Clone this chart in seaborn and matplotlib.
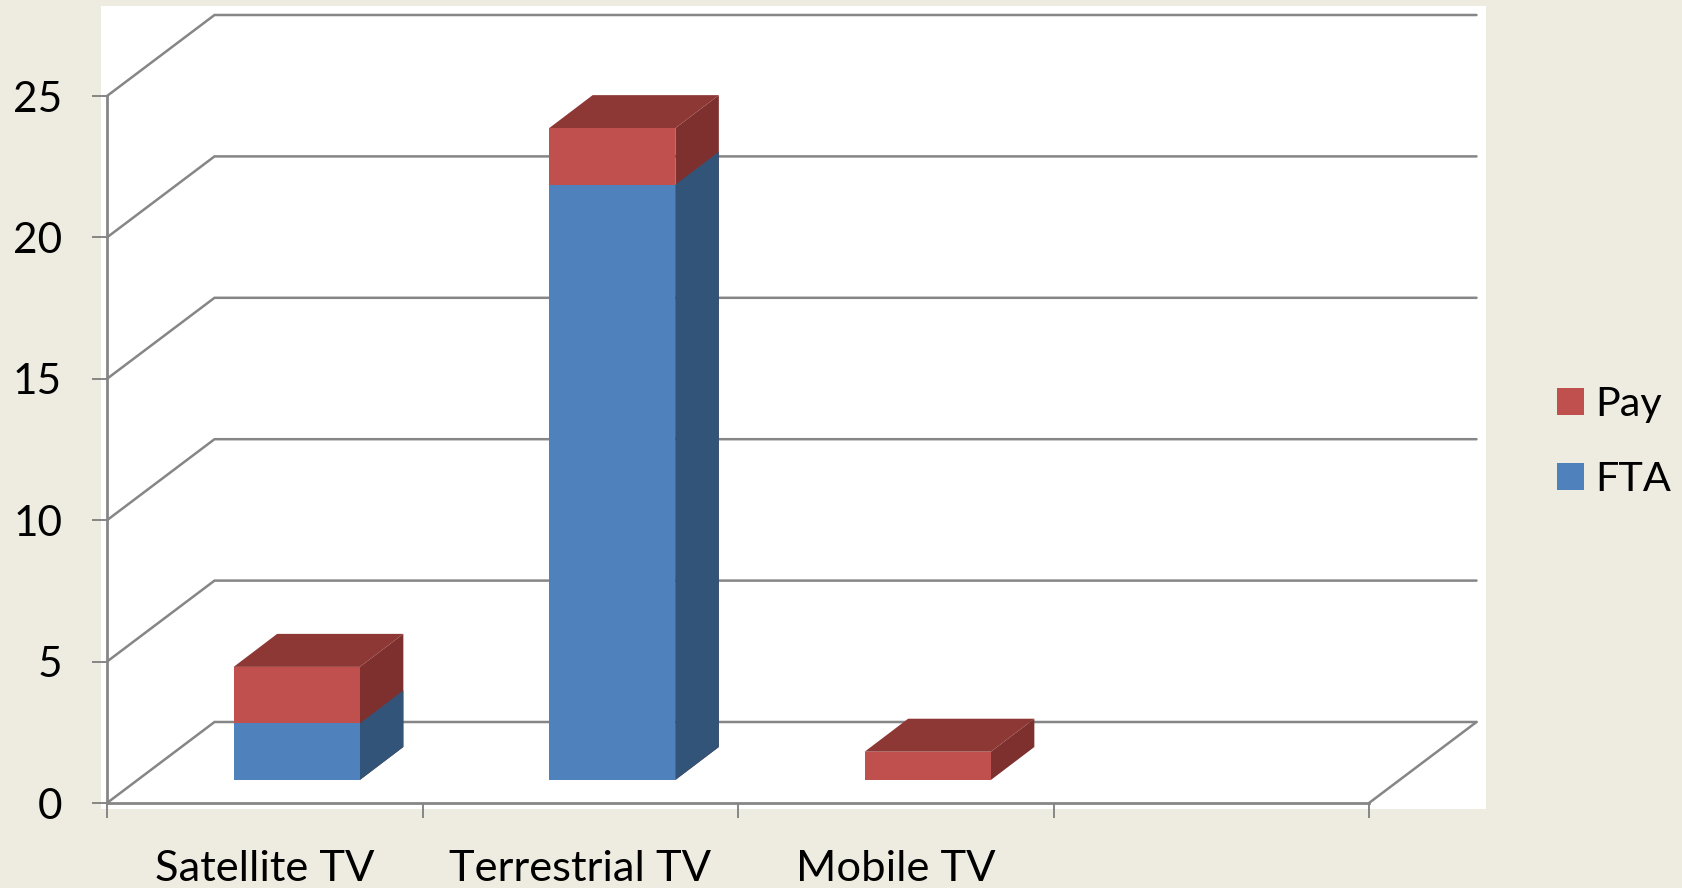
import matplotlib
matplotlib.use("Agg")
import matplotlib.pyplot as plt
from matplotlib.patches import Rectangle, Patch
import numpy as np
import pandas as pd
import seaborn as sns

categories = ["Satellite TV", "Terrestrial TV", "Mobile TV"]
fta_values = [2, 21.05, 0]
pay_values = [2, 2, 1]
y_ticks = [0, 5, 10, 15, 20, 25]

BG = "#EEECE1"
GRID = "#868686"
BLUE, BLUE_SIDE = "#4F81BD", "#325479"
RED, RED_SIDE, RED_TOP = "#C0504D", "#7D302E", "#8E3836"

W, H = 1682, 888
sns.set_theme(style="white")
plt.rcParams["font.family"] = ["Lato", "DejaVu Sans"]

fig = plt.figure(figsize=(W / 100, H / 100), dpi=100, facecolor=BG)
fig.add_artist(Rectangle((101 / W, 1 - 809 / H), 1385 / W, 803 / H,
                         transform=fig.transFigure, fc="white", ec="none", zorder=-5))
L, R, Y0, Y25 = 107, 1369, 803, 96
ax = fig.add_axes([L / W, 1 - Y0 / H, (R - L) / W, (Y0 - Y25) / H])
ax.patch.set_alpha(0)

df = pd.DataFrame({"category": categories,
                   "FTA": fta_values,
                   "Pay": pay_values})
df["total"] = df["FTA"] + df["Pay"]

# 3-D projection expressed in data units
cat_px = (R - L) / 4
unit_px = (Y0 - Y25) / 25
wall_dx, wall_dy = 107.5 / cat_px, 81 / unit_px
off_dx, off_dy = 32 / cat_px, 23 / unit_px
bar_dx, bar_dy = 43.5 / cat_px, 33 / unit_px

for v in y_ticks:
    ax.plot([-0.5, -0.5 + wall_dx, 3.5 + wall_dx], [v, v + wall_dy, v + wall_dy],
            color=GRID, lw=1.8, clip_on=False, zorder=1, solid_joinstyle="miter")
ax.plot([3.5, 3.5 + wall_dx], [0, wall_dy], color=GRID, lw=1.8, clip_on=False, zorder=1)

sns.barplot(data=df, x="category", y="total", color=RED, saturation=1, width=0.4,
            ax=ax, errorbar=None, zorder=4)
n_total = len(ax.patches)
sns.barplot(data=df, x="category", y="FTA", color=BLUE, saturation=1, width=0.4,
            ax=ax, errorbar=None, zorder=5)

for i, p in enumerate(ax.patches):
    x0, w, h = p.get_x(), p.get_width(), p.get_height()
    x1 = x0 + w + off_dx
    p.set_x(x0 + off_dx)
    p.set_y(off_dy)
    p.set_linewidth(0)
    p.set_clip_on(False)
    if h <= 0:
        continue
    y1 = off_dy + h
    is_total = i < n_total
    ax.fill([x1, x1 + bar_dx, x1 + bar_dx, x1],
            [off_dy, off_dy + bar_dy, y1 + bar_dy, y1],
            color=RED_SIDE if is_total else BLUE_SIDE, lw=0, clip_on=False,
            zorder=3 if is_total else 4)
    if is_total:
        ax.fill([x0 + off_dx, x0 + off_dx + bar_dx, x1 + bar_dx, x1],
                [y1, y1 + bar_dy, y1 + bar_dy, y1],
                color=RED_TOP, lw=0, clip_on=False, zorder=3)

ax.set_xlim(-0.5, 3.5)
ax.set_ylim(0, 25)
ax.set_xlabel("")
ax.set_ylabel("")
sns.despine(ax=ax)
for s in ("left", "bottom"):
    ax.spines[s].set_color(GRID)
    ax.spines[s].set_linewidth(2.0)
    ax.spines[s].set_zorder(2)

ax.set_yticks(y_ticks)
ax.set_xticks(np.arange(4))
ax.set_xticklabels(categories + [""])
ax.set_xticks(np.arange(5) - 0.5, minor=True)
ax.tick_params(axis="y", which="major", left=True, length=10.8, width=1.4, color=GRID,
               pad=21.5, labelsize=30.5, labelcolor="black")
ax.tick_params(axis="x", which="major", bottom=False, length=0, pad=33.5,
               labelsize=31.3, labelcolor="black")
ax.tick_params(axis="x", which="minor", bottom=True, length=10.8, width=1.4, color=GRID)

ax.legend(handles=[Patch(fc=RED, ec="none", label="Pay"), Patch(fc=BLUE, ec="none", label="FTA")],
          loc="center left", bbox_to_anchor=(1557 / W, 1 - 442 / H),
          bbox_transform=fig.transFigure, frameon=False, fontsize=29.8, borderpad=0,
          borderaxespad=0, handlelength=0.65, handleheight=0.65, handletextpad=0.28,
          labelspacing=0.92, labelcolor="black")

fig.savefig("out.png", dpi=100, facecolor=BG)
